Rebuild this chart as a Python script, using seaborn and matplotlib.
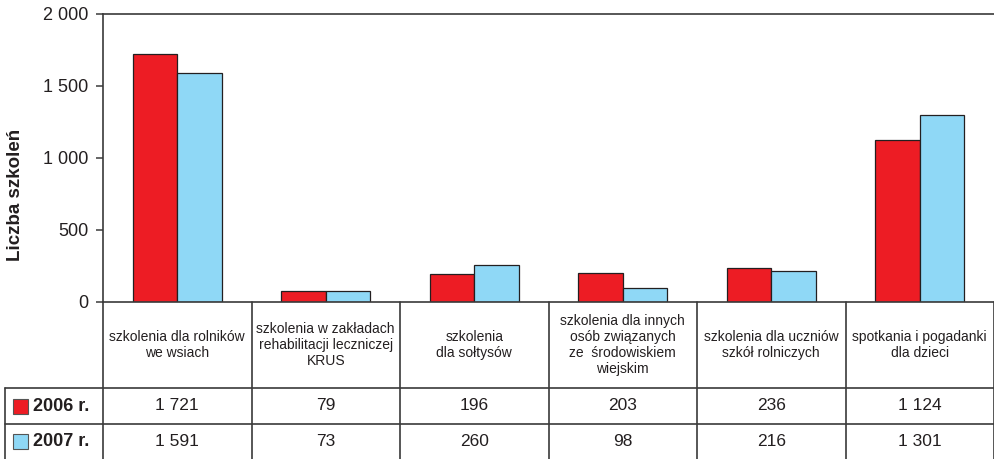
import numpy as np
import pandas as pd
import seaborn as sns
import matplotlib.pyplot as plt
from matplotlib.patches import Rectangle
from matplotlib.ticker import FuncFormatter


categories = [
    "szkolenia dla rolników\nwe wsiach",
    "szkolenia w zakładach\nrehabilitacji leczniczej\nKRUS",
    "szkolenia\ndla sołtysów",
    "szkolenia dla innych\nosób związanych\nze  środowiskiem\nwiejskim",
    "szkolenia dla uczniów\nszkół rolniczych",
    "spotkania i pogadanki\ndla dzieci",
]
years = ["2006 r.", "2007 r."]
v2006 = [1721, 79, 196, 203, 236, 1124]
v2007 = [1591, 73, 260, 98, 216, 1301]
yticks = [0, 500, 1000, 1500, 2000]

colors = {"2006 r.": "#ed1c24", "2007 r.": "#8fd8f6"}
ink = "#231f20"
line_c = "#3a3a3a"


def fmt(v, pos=None):
    return f"{int(v):,}".replace(",", " ")


df = pd.DataFrame({
    "kategoria": categories * 2,
    "rok": [years[0]] * len(categories) + [years[1]] * len(categories),
    "liczba": v2006 + v2007,
})

sns.set_theme(style="white")
plt.rcParams["font.family"] = ["Liberation Sans", "DejaVu Sans"]

W, H = 994, 459
fig = plt.figure(figsize=(W / 100, H / 100), dpi=100)

# main bar area in pixels: x 103..994, y 14..302
ax = fig.add_axes([103 / W, 1 - 302 / H, (994 - 103) / W, (302 - 14) / H])
sns.barplot(data=df, x="kategoria", y="liczba", hue="rok", order=categories,
            hue_order=years, palette=colors, width=0.6, saturation=1,
            edgecolor=ink, linewidth=0.9, legend=False, ax=ax)
ax.set_xlim(-0.5, len(categories) - 0.5)
ax.set_ylim(0, 2000)
ax.set_yticks(yticks)
ax.yaxis.set_major_formatter(FuncFormatter(fmt))
ax.set_xticks([])
ax.set_xlabel("")
ax.set_ylabel("")
ax.tick_params(axis="y", direction="out", length=5, width=1.1, color=line_c,
               labelsize=13, labelcolor=ink, pad=5.5, left=True)
for side in ["left", "top", "bottom"]:
    ax.spines[side].set_color(line_c)
    ax.spines[side].set_linewidth(1.2)
ax.spines["right"].set_visible(False)

fig.text(16 / W, 1 - 195 / H, "Liczba szkoleń", rotation=90, ha="center",
         va="center", fontsize=13.5, fontweight="bold", color=ink)

# data table below the bars, sharing the category scale
unit = (994 - 103) / len(categories)
tax = fig.add_axes([0, 0, 1, (H - 302) / H])
tax.set_xlim(-0.5 - 103 / unit, len(categories) - 0.5)
tax.set_ylim(H - 302, 0)
tax.axis("off")

rows = [0, 86, 122, 157]
x_left = -0.5 - 98 / unit
x1 = len(categories) - 0.5
lk = dict(color=line_c, lw=1.2, clip_on=False)
for b in np.arange(-0.5, len(categories), 1.0):
    tax.plot([b, b], [0, rows[-1]], **lk)
tax.plot([x_left, x1], [rows[1], rows[1]], **lk)
tax.plot([x_left, x1], [rows[2], rows[2]], **lk)
tax.plot([x_left, x_left], [rows[1], rows[-1]], **lk)

for i, cat in enumerate(categories):
    tax.text(i, (rows[0] + rows[1]) / 2, cat, ha="center", va="center",
             fontsize=10, color=ink, linespacing=1.2)

for r, (yr, vals) in enumerate(zip(years, [v2006, v2007])):
    yc = (rows[r + 1] + rows[r + 2]) / 2
    for i, v in enumerate(vals):
        tax.text(i, yc, fmt(v), ha="center", va="center", fontsize=12.5,
                 color=ink)
    sx = -0.5 - (103 - 13) / unit
    tax.add_patch(Rectangle((sx, yc - 7.5), 15 / unit, 15, facecolor=colors[yr],
                            edgecolor="#555555", lw=0.8, clip_on=False))
    tax.text(-0.5 - (103 - 33) / unit, yc + 0.5, yr, ha="left", va="center",
             fontsize=13, fontweight="bold", color=ink)

fig.savefig("out.png", dpi=100)
